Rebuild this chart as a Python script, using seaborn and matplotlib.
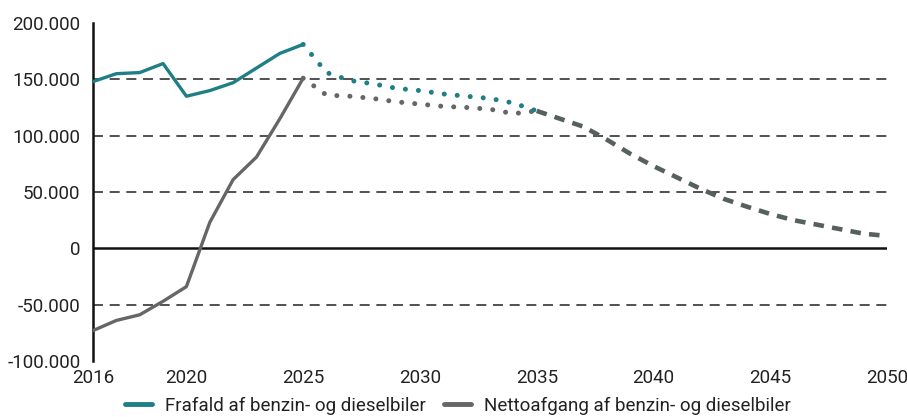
import matplotlib
matplotlib.use("Agg")
import matplotlib.pyplot as plt
from matplotlib.lines import Line2D
from matplotlib.ticker import FuncFormatter
import seaborn as sns
import pandas as pd

# Historic years (solid lines)
years_hist = [2016, 2017, 2018, 2019, 2020, 2021, 2022, 2023, 2024, 2025]
frafald_hist = [148000, 155000, 156000, 164000, 135000, 140000, 147000, 160000, 173000, 181000]
netto_hist = [-73000, -64000, -59000, -47000, -34000, 23000, 61000, 81000, 115000, 151000]

# Short-term projection (dotted)
years_proj = [2025, 2026, 2027, 2028, 2029, 2030, 2031, 2032, 2033, 2034, 2035]
frafald_proj = [181000, 156000, 149000, 146000, 142000, 140000, 137000, 135000, 133000, 129000, 122000]
netto_proj = [151000, 136000, 135000, 133000, 130000, 128000, 126000, 125000, 123500, 119500, 122000]

# Long-term projection, common to both series (dashed)
years_long = [2035, 2036, 2037, 2038, 2039, 2040, 2041, 2042, 2043, 2044, 2045,
              2046, 2047, 2048, 2049, 2050]
long_proj = [122000, 115000, 108000, 96500, 84000, 73000, 63000, 53000, 44000,
             37000, 30500, 25000, 21000, 17000, 13000, 11000]

x_ticks = [2016, 2020, 2025, 2030, 2035, 2040, 2045, 2050]
y_ticks = [-100000, -50000, 0, 50000, 100000, 150000, 200000]
legend_labels = ["Frafald af benzin- og dieselbiler", "Nettoafgang af benzin- og dieselbiler"]

TEAL = "#1e7f86"
GRAY = "#666666"
DASH_GRAY = "#56605f"

sns.set_theme(style="white")
plt.rcParams["font.family"] = ["Roboto", "DejaVu Sans"]
plt.rcParams["text.color"] = "#222222"

fig = plt.figure(figsize=(9.07, 4.17), dpi=100)
ax = fig.add_axes([93 / 907, 1 - 361 / 417, (887 - 93) / 907, (361 - 23) / 417])

# Gridlines and zero line
for v in [-50000, 50000, 100000, 150000]:
    ax.axhline(v, color="#333333", lw=1.2, ls=(0, (6, 4)), zorder=1)
ax.axhline(0, color="#111111", lw=1.8, zorder=2)

hist = pd.DataFrame({"år": years_hist, "frafald": frafald_hist, "netto": netto_hist})
proj = pd.DataFrame({"år": years_proj, "frafald": frafald_proj, "netto": netto_proj})
long = pd.DataFrame({"år": years_long, "værdi": long_proj})

sns.lineplot(data=hist, x="år", y="frafald", ax=ax, color=TEAL, lw=2.4, zorder=4)
sns.lineplot(data=hist, x="år", y="netto", ax=ax, color=GRAY, lw=2.4, zorder=3)

dot_kw = dict(lw=3.6, linestyle=(0, (0.01, 2.6)), dash_capstyle="round")
sns.lineplot(data=proj, x="år", y="netto", ax=ax, color=GRAY, zorder=3, **dot_kw)
sns.lineplot(data=proj, x="år", y="frafald", ax=ax, color=TEAL, zorder=4, **dot_kw)

sns.lineplot(data=long, x="år", y="værdi", ax=ax, color=DASH_GRAY, lw=3.3,
             linestyle=(0, (2.3, 1.8)), zorder=5)

ax.set_xlim(2016, 2050)
ax.set_ylim(-100000, 200000)
ax.set_xticks(x_ticks)
ax.set_yticks(y_ticks)
ax.yaxis.set_major_formatter(FuncFormatter(lambda v, p: f"{int(v):,}".replace(",", ".")))
ax.set_xlabel("")
ax.set_ylabel("")
ax.tick_params(axis="both", length=0, labelsize=13.5, colors="#222222")
ax.tick_params(axis="y", pad=9)
ax.tick_params(axis="x", pad=6)

for s in ["top", "right", "bottom"]:
    ax.spines[s].set_visible(False)
ax.spines["left"].set_color("#111111")
ax.spines["left"].set_linewidth(1.8)
ax.grid(False)

handles = [Line2D([], [], color=TEAL, lw=3.5), Line2D([], [], color=GRAY, lw=3.5)]
fig.legend(handles, legend_labels, loc="center", bbox_to_anchor=(0.505, 1 - 406 / 417),
           ncol=2, frameon=False, fontsize=13.5, handlelength=1.4, handletextpad=0.7,
           columnspacing=1.0, borderpad=0.1)

fig.savefig("out.png", dpi=100)
